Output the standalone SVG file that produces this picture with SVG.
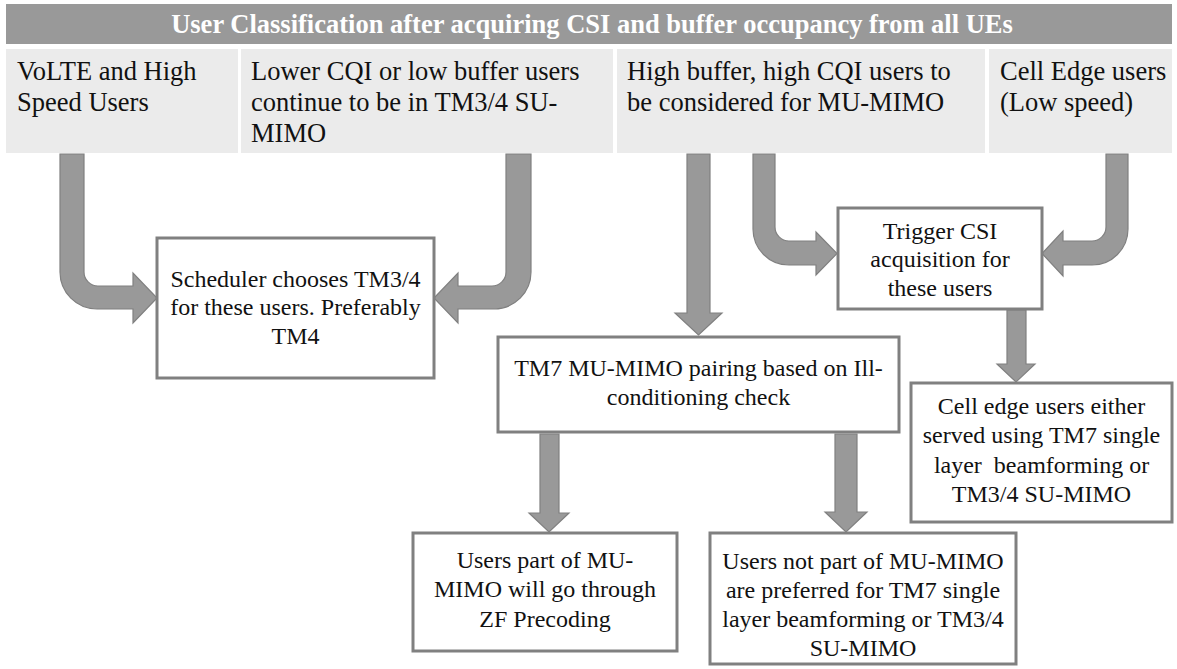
<svg xmlns="http://www.w3.org/2000/svg" width="1177" height="669" viewBox="0 0 1177 669">
<style>
.bar{fill:#999999}
.cell{fill:#ebebeb}
.box{fill:#ffffff;stroke:#808080;stroke-width:3}
.arrow{fill:#999999;stroke:#808080;stroke-width:1.2;stroke-linejoin:miter}
.t{font-family:"Liberation Serif","Times New Roman",serif;fill:#111111}
.title{font-family:"Liberation Serif","Times New Roman",serif;font-weight:bold;font-size:26.5px;fill:#ffffff}
.ct{font-size:26.5px}
.bt{font-size:24px;text-anchor:middle}
</style>
<rect width="1177" height="669" fill="#ffffff"/>
<g id="header">
<rect class="bar" x="6" y="4" width="1166" height="40"/>
<text class="title" x="592" y="33" text-anchor="middle">User Classification after acquiring CSI and buffer occupancy from all UEs</text>
</g>
<g id="cat-volte">
<rect class="cell" x="6" y="49" width="232" height="104"/>
<text class="t ct" x="17" y="80">VoLTE and High</text>
<text class="t ct" x="17" y="111">Speed Users</text>
</g>
<g id="cat-lowcqi">
<rect class="cell" x="241" y="49" width="372" height="104"/>
<text class="t ct" x="251" y="80">Lower CQI or low buffer users</text>
<text class="t ct" x="251" y="111">continue to be in TM3/4 SU-</text>
<text class="t ct" x="251" y="142">MIMO</text>
</g>
<g id="cat-highbuf">
<rect class="cell" x="617" y="49" width="368" height="104"/>
<text class="t ct" x="627" y="80">High buffer, high CQI users to</text>
<text class="t ct" x="627" y="111">be considered for MU-MIMO</text>
</g>
<g id="cat-celledge">
<rect class="cell" x="989" y="49" width="183" height="104"/>
<text class="t ct" x="1000" y="80">Cell Edge users</text>
<text class="t ct" x="1000" y="111">(Low speed)</text>
</g>
<g id="connectors">
<path class="arrow" d="M60,154 H84 V272 A14,14 0 0 0 98,286 H133 V273 L157,298 L133,323 V309 H97 A37,37 0 0 1 60,272 Z"/>
<path class="arrow" d="M531,154 H506 V272 A14,14 0 0 1 492,286 H458 V273 L434,298 L458,323 V309 H494 A37,37 0 0 0 531,272 Z"/>
<path class="arrow" d="M687,154 H710 V313 H722 L698.5,335 L675,313 H687 Z"/>
<path class="arrow" d="M753,154 H775 V227 A14,14 0 0 0 789,241 H816 V232 L837,253.5 L816,275 V265 H789 A36,36 0 0 1 753,229 Z"/>
<path class="arrow" d="M1128,154 H1106 V227 A14,14 0 0 1 1092,241 H1063 V231 L1042,253.5 L1063,276 V265 H1092 A36,36 0 0 0 1128,229 Z"/>
<path class="arrow" d="M1007,310 H1026 V364 H1035 L1016,382 L997,364 H1007 Z"/>
<path class="arrow" d="M540,434 H559 V513 H569 L549,532 L529,513 H540 Z"/>
<path class="arrow" d="M835,434 H857 V512 H867 L846,532 L825,512 H835 Z"/>
</g>
<g id="scheduler">
<rect class="box" x="157" y="238" width="277" height="140"/>
<text class="t bt" x="295.5" y="287">Scheduler chooses TM3/4</text>
<text class="t bt" x="295.5" y="315">for these users. Preferably</text>
<text class="t bt" x="295.5" y="344">TM4</text>
</g>
<g id="trigger-csi">
<rect class="box" x="838" y="208" width="204" height="101"/>
<text class="t bt" x="940" y="239">Trigger CSI</text>
<text class="t bt" x="940" y="267">acquisition for</text>
<text class="t bt" x="940" y="296">these users</text>
</g>
<g id="tm7-pairing">
<rect class="box" x="498" y="337" width="401" height="95"/>
<text class="t bt" x="698.5" y="376">TM7 MU-MIMO pairing based on Ill-</text>
<text class="t bt" x="698.5" y="405">conditioning check</text>
</g>
<g id="cell-edge-served">
<rect class="box" x="911" y="383" width="261" height="139"/>
<text class="t bt" x="1041.5" y="414">Cell edge users either</text>
<text class="t bt" x="1041.5" y="443">served using TM7 single</text>
<text class="t bt" x="1041.5" y="473" xml:space="preserve">layer  beamforming or</text>
<text class="t bt" x="1041.5" y="502">TM3/4 SU-MIMO</text>
</g>
<g id="users-mu">
<rect class="box" x="413" y="533" width="264" height="118"/>
<text class="t bt" x="545" y="568">Users part of MU-</text>
<text class="t bt" x="545" y="597">MIMO will go through</text>
<text class="t bt" x="545" y="627">ZF Precoding</text>
</g>
<g id="users-not-mu">
<rect class="box" x="710" y="533" width="306" height="131"/>
<text class="t bt" x="863" y="569">Users not part of MU-MIMO</text>
<text class="t bt" x="863" y="598">are preferred for TM7 single</text>
<text class="t bt" x="863" y="627">layer beamforming or TM3/4</text>
<text class="t bt" x="863" y="656">SU-MIMO</text>
</g>
</svg>
